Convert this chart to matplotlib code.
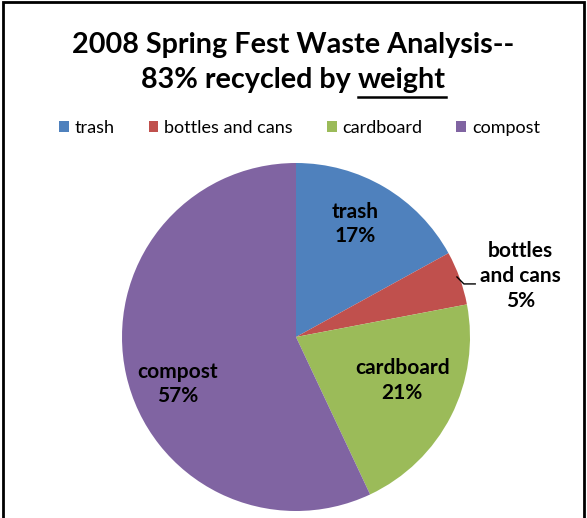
import matplotlib.pyplot as plt
from matplotlib.lines import Line2D
from matplotlib.patches import Rectangle

# data
categories = ['trash', 'bottles and cans', 'cardboard', 'compost']
shares = [17, 5, 21, 57]
label_text = ['trash\n17%', 'bottles\nand cans\n5%', 'cardboard\n21%', 'compost\n57%']
colors = ['#4F81BD', '#C0504D', '#9BBB59', '#8064A2']

W, H = 587, 518
fig = plt.figure(figsize=(W / 100, H / 100), dpi=100)
plt.rcParams['font.family'] = ['Lato', 'DejaVu Sans']

# pie axes: centre (296, 337) px, radius 174 px
cx, cy, r = 296, 337, 174
ax = fig.add_axes([(cx - r) / W, (H - cy - r) / H, 2 * r / W, 2 * r / H])
wedges, _ = ax.pie(shares, colors=colors, startangle=90, counterclock=False,
                   wedgeprops=dict(linewidth=0))
ax.set_xlim(-1, 1)
ax.set_ylim(-1, 1)
ax.set_aspect('equal')
ax.axis('off')

# slice labels (hand placed, like the original)
label_pos = [(0.34, 0.65), (1.29, 0.35), (0.61, -0.25), (-0.68, -0.27)]
for txt, (x, y) in zip(label_text, label_pos):
    ax.text(x, y, txt, ha='center', va='center', fontsize=15,
            fontweight='bold', linespacing=1.3, clip_on=False)
ax.plot([0.925, 0.965, 1.03], [0.345, 0.305, 0.305], color='black', lw=1,
        clip_on=False)

# title, second line with "weight" underlined
fs_title = 20.7
fig.text(0.5, 1 - 45 / H, '2008 Spring Fest Waste Analysis--', ha='center',
         va='center', fontsize=fs_title, fontweight='bold')
renderer = fig.canvas.get_renderer()
t1 = fig.text(0, 1 - 80 / H, '83% recycled by ', va='center', fontsize=fs_title,
              fontweight='bold')
t2 = fig.text(0, 1 - 80 / H, 'weight', va='center', fontsize=fs_title,
              fontweight='bold')
w1 = t1.get_window_extent(renderer).width / W
w2 = t2.get_window_extent(renderer).width / W
x0 = 0.5 - (w1 + w2) / 2
t1.set_x(x0)
t2.set_x(x0 + w1)
uy = 1 - 97 / H
fig.add_artist(Line2D([x0 + w1, x0 + w1 + w2], [uy, uy], color='black', lw=1.8))

# legend
fig.legend(wedges, categories, loc='center', bbox_to_anchor=(0.51, 1 - 128 / H),
           ncol=4, frameon=False, fontsize=13, handlelength=0.55,
           handleheight=0.55, handletextpad=0.3, columnspacing=1.9)

# chart border (bottom edge cut off in the original)
fig.add_artist(Rectangle((3 / W, -0.05), (W - 6) / W, 1.05 - 2 / H,
                         transform=fig.transFigure, fill=False,
                         edgecolor='black', lw=2))

fig.savefig('out.png', dpi=100)
